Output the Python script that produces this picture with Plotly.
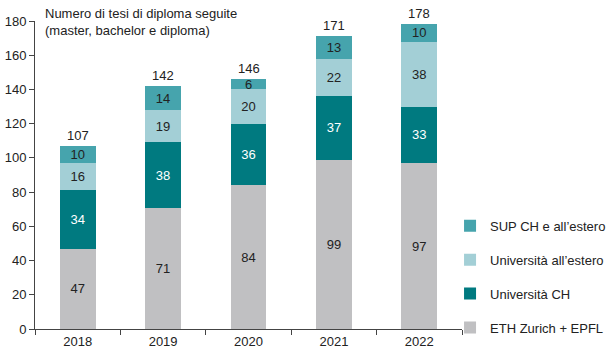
import plotly.graph_objects as go

years = ["2018", "2019", "2020", "2021", "2022"]
eth = [47, 71, 84, 99, 97]
uni_ch = [34, 38, 36, 37, 33]
uni_estero = [16, 19, 20, 22, 38]
sup = [10, 14, 6, 13, 10]
totals = [107, 142, 146, 171, 178]

series = [
    ("ETH Zurich + EPFL", eth, "#c0c0c2", "#222222"),
    ("Università CH", uni_ch, "#007a80", "#ffffff"),
    ("Università all’estero", uni_estero, "#a3cfd6", "#222222"),
    ("SUP CH e all’estero", sup, "#46a4ad", "#222222"),
]

FONT = "Liberation Sans, Arial, sans-serif"
fig = go.Figure()
for i, (name, vals, col, tcol) in enumerate(series):
    fig.add_trace(go.Bar(
        x=years, y=vals, name=name, marker=dict(color=col, line=dict(width=0)),
        text=[str(v) for v in vals], textposition="inside", insidetextanchor="middle",
        textfont=dict(color=tcol, size=13, family=FONT), legendgroup=f"g{i}",
        legendrank=len(series) - i,
        width=0.42, textangle=0, constraintext="none",
    ))

# annotations on a category axis use the category index
for idx, t in enumerate(totals):
    fig.add_annotation(x=idx, y=t, text=str(t), showarrow=False, yanchor="bottom",
                       yshift=1, font=dict(size=13, color="#222222", family=FONT))

fig.add_annotation(x=0, xref="paper", xshift=8, y=1, yref="paper", yshift=17,
                   xanchor="left", yanchor="top", align="left", showarrow=False,
                   text="Numero di tesi di diploma seguite<br>(master, bachelor e diploma)",
                   font=dict(size=13, color="#222222", family=FONT))

fig.update_layout(
    width=616, height=351, barmode="stack",
    margin=dict(l=35, r=154, t=21, b=22, autoexpand=False),
    paper_bgcolor="white", plot_bgcolor="white",
    font=dict(family=FONT, size=13, color="#222222"),
    legend=dict(traceorder="grouped", x=0.972, xanchor="left", y=-0.045,
                yanchor="bottom", tracegroupgap=14,
                font=dict(size=13, family=FONT, color="#222222"),
                itemclick=False, bgcolor="rgba(0,0,0,0)"),
    xaxis=dict(type="category", range=[-0.5, 4.5], showline=True, linecolor="#444444",
               linewidth=1, ticks="outside", tickson="boundaries", ticklen=5,
               tickcolor="#444444", showgrid=False, automargin=False),
    yaxis=dict(range=[0, 180], dtick=20, showline=True, linecolor="#444444",
               linewidth=1, ticks="outside", ticklen=5, tickcolor="#444444",
               showgrid=False, zeroline=False, automargin=False),
)

fig.write_html("out.html")
